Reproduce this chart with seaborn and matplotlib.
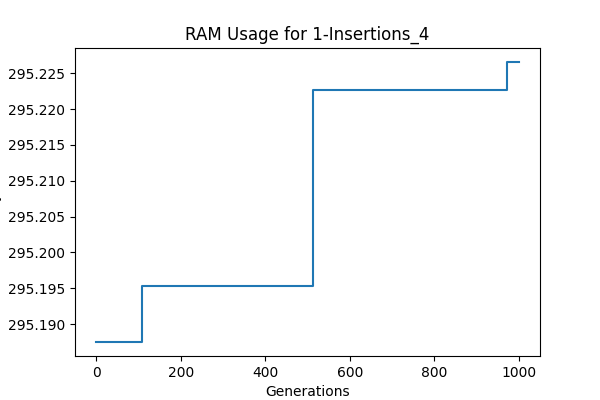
"""
RAM usage per generation for 1-Insertions_4
"""
import matplotlib
matplotlib.use('Agg')
import matplotlib.pyplot as plt
import seaborn as sns
import pandas as pd

# generations where memory usage changes (last entry = final generation)
generations = [0, 108, 512, 973, 1000]
# RAM usage (MB) holding from each generation on
ram_mb = [295.1875, 295.1953125, 295.22265625, 295.2265625, 295.2265625]

df = pd.DataFrame({'Generations': generations, 'RAM': ram_mb})

fig, ax = plt.subplots(figsize=(6, 4), dpi=100)

sns.lineplot(data=df, x='Generations', y='RAM', ax=ax,
             drawstyle='steps-post', color='#1f77b4', linewidth=1.5)

ax.set_title('RAM Usage for 1-Insertions_4')
ax.set_xlabel('Generations')
ax.set_ylabel('Memory (MB)')
ax.ticklabel_format(axis='y', useOffset=False, style='plain')
ax.yaxis.set_major_formatter(matplotlib.ticker.FormatStrFormatter('%.3f'))

plt.savefig('out.png', dpi=100)
plt.close()
